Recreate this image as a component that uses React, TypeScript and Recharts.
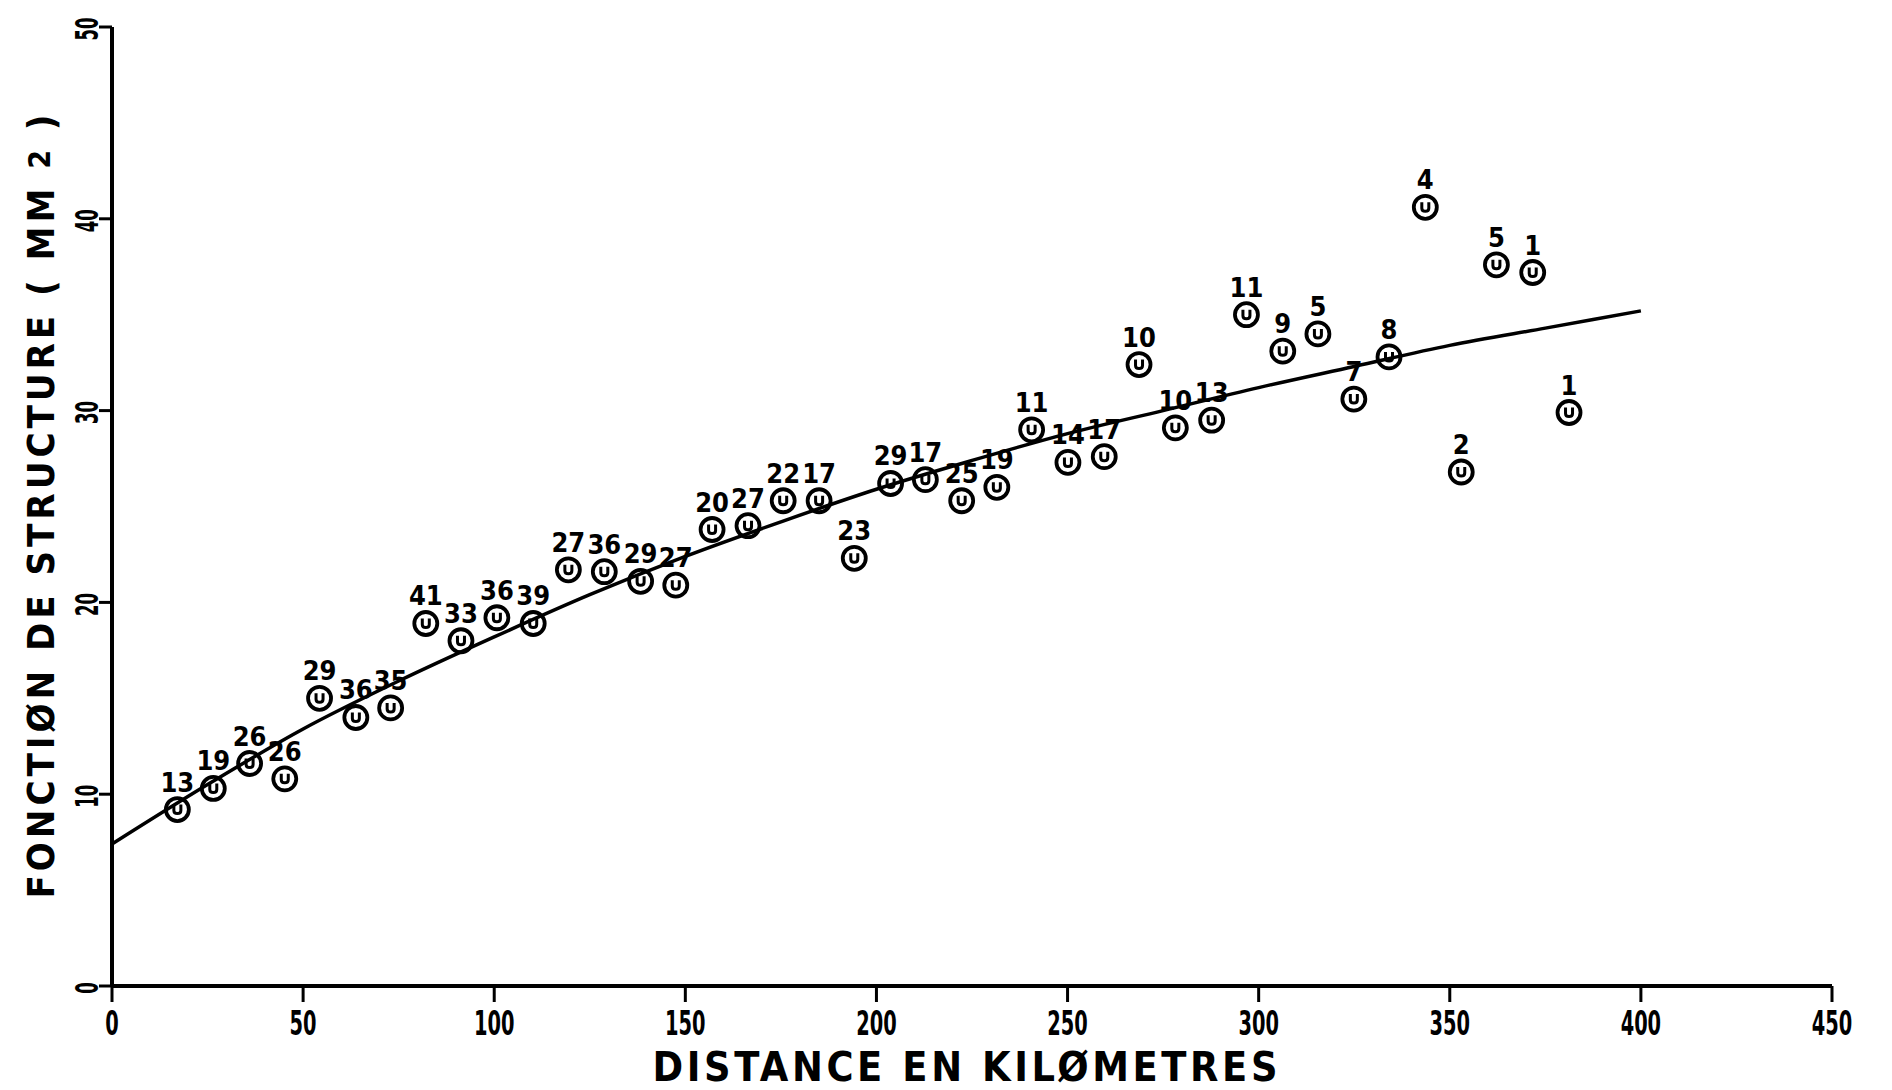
import { ComposedChart, Line, Scatter, XAxis, YAxis } from "recharts";

// distance (km), structure function (mm²) and station count written above each point
const DIST = [
  17.1, 26.5, 36.0, 45.2, 54.3, 63.8, 72.9, 82.1, 91.3, 100.7, 110.2, 119.4, 128.8, 138.3, 147.5, 157.0, 166.4,
  175.6, 185.0, 194.2, 203.7, 212.8, 222.3, 231.5, 240.6, 250.1, 259.6, 268.7, 278.2, 287.7, 296.8, 306.3, 315.5,
  324.9, 334.1, 343.6, 353.0, 362.2, 371.7, 381.2,
];
const VALUES = [
  9.2, 10.3, 11.6, 10.8, 15.0, 14.0, 14.5, 18.9, 18.0, 19.2, 18.9, 21.7, 21.6, 21.1, 20.9, 23.8, 24.0, 25.3, 25.3,
  22.3, 26.2, 26.4, 25.3, 26.0, 29.0, 27.3, 27.6, 32.4, 29.1, 29.5, 35.0, 33.1, 34.0, 30.6, 32.8, 40.6, 26.8, 37.6,
  37.2, 29.9,
];
const COUNTS = [
  "13", "19", "26", "26", "29", "36", "35", "41", "33", "36", "39", "27", "36", "29", "27", "20", "27", "22", "17",
  "23", "29", "17", "25", "19", "11", "14", "17", "10", "10", "13", "11", "9", "5", "7", "8", "4", "2", "5", "1", "1",
];

// fitted curve
const FIT_X = [0, 25, 50, 75, 100, 125, 150, 175, 200, 225, 250, 275, 300, 325, 350, 375, 400];
const FIT_Y = [7.4, 10.5, 13.4, 15.9, 18.2, 20.4, 22.4, 24.2, 25.9, 27.4, 28.8, 30.0, 31.2, 32.3, 33.4, 34.3, 35.2];

const X_TICKS = [0, 50, 100, 150, 200, 250, 300, 350, 400, 450];
const Y_TICKS = [0, 10, 20, 30, 40, 50];

const points = DIST.map((x, i) => ({ x, y: VALUES[i], n: COUNTS[i] }));
const fit = FIT_X.map((x, i) => ({ x, fy: FIT_Y[i] }));

const FONT = "'DejaVu Sans Condensed', 'DejaVu Sans', sans-serif";

function Ring(props: any) {
  const { cx, cy, payload } = props;
  if (cx == null || cy == null) return null;
  const d = `M${cx - 3.5} ${cy - 5} V${cy + 1} Q${cx - 3.5} ${cy + 4} ${cx} ${cy + 4} Q${cx + 3.5} ${cy + 4} ${cx + 3.5} ${cy + 1} V${cy - 5}`;
  return (
    <g>
      <circle cx={cx} cy={cy} r={11.5} fill="none" stroke="#000" strokeWidth={3.8} />
      <path d={d} fill="none" stroke="#000" strokeWidth={3} />
      <text x={cx} y={cy - 18} textAnchor="middle" fontFamily={FONT} fontWeight="bold" fontSize={27} fill="#000">
        {payload.n}
      </text>
    </g>
  );
}

function XTick(props: any) {
  const { x, y, payload } = props;
  const s = String(payload.value);
  return (
    <text
      x={x}
      y={y + 33}
      textAnchor="middle"
      fontFamily={FONT}
      fontWeight="bold"
      fontSize={33}
      textLength={s.length * 13.5}
      lengthAdjust="spacingAndGlyphs"
      fill="#000"
    >
      {s}
    </text>
  );
}

function YTick(props: any) {
  const { x, y, payload } = props;
  const s = String(payload.value);
  return (
    <g transform={`translate(${x - 1}, ${y + 2}) rotate(-90)`}>
      <text
        x={0}
        y={0}
        textAnchor="middle"
        fontFamily={FONT}
        fontWeight="bold"
        fontSize={32}
        textLength={s.length * 11.5}
        lengthAdjust="spacingAndGlyphs"
        fill="#000"
      >
        {s}
      </text>
    </g>
  );
}

function XTitle(props: any) {
  const vb = props.viewBox;
  return (
    <text
      x={vb.x + vb.width / 2 - 7}
      y={vb.y + 95}
      textAnchor="middle"
      fontFamily={FONT}
      fontWeight="bold"
      fontSize={41}
      textLength={625}
      lengthAdjust="spacing"
      fill="#000"
    >
      DISTANCE EN KILØMETRES
    </text>
  );
}

function YTitle(props: any) {
  const vb = props.viewBox;
  const ty = vb.y + vb.height / 2;
  return (
    <g transform={`translate(54, ${ty}) rotate(-90)`}>
      <text
        x={0}
        y={0}
        textAnchor="middle"
        fontFamily={FONT}
        fontWeight="bold"
        fontSize={38}
        textLength={784}
        lengthAdjust="spacing"
        fill="#000"
      >
        FONCTIØN DE STRUCTURE ( MM <tspan fontSize={30} dy={-4}>2</tspan>
        <tspan dy={4}> )</tspan>
      </text>
    </g>
  );
}

export default function App() {
  return (
    <div style={{ position: "absolute", left: 0, top: 0, width: 1892, height: 1090, background: "#fff" }}>
      <ComposedChart width={1892} height={1090} margin={{ top: 27, right: 60, bottom: 14, left: 0 }}>
        <XAxis
          type="number"
          dataKey="x"
          domain={[0, 450]}
          ticks={X_TICKS}
          interval={0}
          height={90}
          axisLine={{ stroke: "#000", strokeWidth: 4 }}
          tickLine={{ stroke: "#000", strokeWidth: 3 }}
          tickSize={16}
          tickMargin={0}
          tick={<XTick />}
          label={<XTitle />}
        />
        <YAxis
          type="number"
          domain={[0, 50]}
          ticks={Y_TICKS}
          interval={0}
          width={112}
          axisLine={{ stroke: "#000", strokeWidth: 4 }}
          tickLine={{ stroke: "#000", strokeWidth: 3 }}
          tickSize={13}
          tickMargin={0}
          tick={<YTick />}
          label={<YTitle />}
        />
        <Line
          data={fit}
          dataKey="fy"
          type="monotone"
          stroke="#000"
          strokeWidth={3.5}
          dot={false}
          isAnimationActive={false}
        />
        <Scatter data={points} dataKey="y" shape={<Ring />} isAnimationActive={false} />
      </ComposedChart>
    </div>
  );
}
